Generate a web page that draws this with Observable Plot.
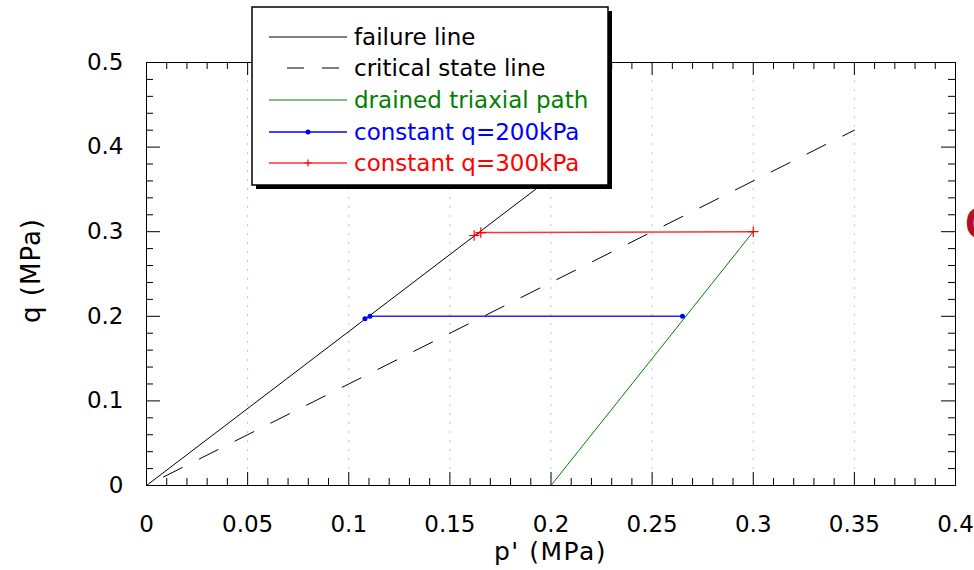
<!DOCTYPE html>
<html>
<head>
<meta charset="utf-8">
<script src="https://cdn.jsdelivr.net/npm/d3@7"></script>
<script src="https://cdn.jsdelivr.net/npm/@observablehq/plot@0.6"></script>
<style>
  html, body { margin: 0; padding: 0; background: #fff; }
  #chart { position: relative; width: 974px; height: 570px; overflow: hidden; }
</style>
</head>
<body>
<div id="chart"></div>
<script>
// Stress paths in p'-q space (MPa)
const failureP = [0, 0.2];
const failureQ = [0, 0.364];

const cslP = [0, 0.35];
const cslQ = [0, 0.42];

const drainedP = [0.2, 0.3];
const drainedQ = [0, 0.3];

const q200P = [0.265, 0.1105, 0.108];
const q200Q = [0.2, 0.2, 0.197];

const q300P = [0.3, 0.1653, 0.162];
const q300Q = [0.3, 0.299, 0.2955];

// Axis ticks
const xMajor = [0, 0.05, 0.1, 0.15, 0.2, 0.25, 0.3, 0.35, 0.4];
const xMinor = [0.01, 0.02, 0.03, 0.04, 0.06, 0.07, 0.08, 0.09, 0.11, 0.12, 0.13, 0.14,
  0.16, 0.17, 0.18, 0.19, 0.21, 0.22, 0.23, 0.24, 0.26, 0.27, 0.28, 0.29,
  0.31, 0.32, 0.33, 0.34, 0.36, 0.37, 0.38, 0.39];
const xGrid = [0.05, 0.1, 0.15, 0.2, 0.25, 0.3, 0.35];
const yMajor = [0, 0.1, 0.2, 0.3, 0.4, 0.5];
const yMinor = [0.02, 0.04, 0.06, 0.08, 0.12, 0.14, 0.16, 0.18, 0.22, 0.24, 0.26, 0.28,
  0.32, 0.34, 0.36, 0.38, 0.42, 0.44, 0.46, 0.48];

const xTitle = "p' (MPa)";
const yTitle = "q (MPa)";

// Legend entries
const legendLabels = ["failure line", "critical state line", "drained triaxial path", "constant q=200kPa", "constant q=300kPa"];
const legendColors = ["#000000", "#000000", "#008000", "#0000ff", "#ff0000"];

const W = 974, H = 570;
const mL = 146, mR = 19, mT = 62, mB = 85;
const plotW = W - mL - mR, plotH = H - mT - mB;
const FONT = "DejaVu Sans, sans-serif";

const pts = (P, Q) => P.map((p, i) => ({p, q: Q[i]}));
const plain = d => `${d}`;

// axis titles, placed relative to the frame
function titlesMark(index, scales, values, dim) {
  const g = d3.create("svg:g").attr("font-family", FONT).attr("fill", "#000");
  const cx = dim.marginLeft + (dim.width - dim.marginLeft - dim.marginRight) / 2;
  const cy = dim.marginTop + (dim.height - dim.marginTop - dim.marginBottom) / 2;
  g.append("text").attr("x", cx).attr("y", dim.height - dim.marginBottom + 75)
    .attr("text-anchor", "middle").attr("font-size", 25).attr("letter-spacing", 1.5).text(xTitle);
  g.append("text").attr("transform", `translate(${dim.marginLeft - 106},${cy - 3}) rotate(-90)`)
    .attr("text-anchor", "middle").attr("font-size", 26).attr("letter-spacing", 1).text(yTitle);
  return g.node();
}

function legendMark() {
  const g = d3.create("svg:g").attr("font-family", FONT).attr("text-anchor", "start");
  const bx = 252, by = 7, bw = 356, bh = 178;
  g.append("rect").attr("x", bx + 4).attr("y", by + 4).attr("width", bw).attr("height", bh).attr("fill", "#000");
  g.append("rect").attr("x", bx).attr("y", by).attr("width", bw).attr("height", bh)
    .attr("fill", "#fff").attr("stroke", "#000").attr("stroke-width", 1.5);
  const rows = [37, 68, 100, 132, 163];
  legendLabels.forEach((label, i) => {
    const y = rows[i];
    const line = g.append("line").attr("x1", 269).attr("x2", 347).attr("y1", y).attr("y2", y)
      .attr("stroke", legendColors[i]).attr("stroke-width", i >= 3 ? 1.5 : 1);
    if (i === 1) line.attr("x1", 287).attr("stroke-dasharray", "17,18");
    if (i === 4) line.attr("stroke-opacity", 0.8);
    if (i === 3) g.append("circle").attr("cx", 308).attr("cy", y).attr("r", 2.5).attr("fill", legendColors[i]);
    if (i === 4) g.append("path").attr("d", `M304.5,${y}h7M308,${y - 3.5}v7`).attr("stroke", legendColors[i]).attr("stroke-width", 1.2);
    g.append("text").attr("x", 354).attr("y", y).attr("dy", "0.36em")
      .attr("font-size", 23).attr("fill", legendColors[i]).text(label);
  });
  // slide heading letter cut off at the right edge
  g.append("text").attr("x", 965).attr("y", 239).attr("font-size", 46).attr("font-weight", "bold")
    .attr("font-family", "Liberation Sans, Arial, sans-serif").attr("fill", "#b0102c").text("C");
  return g.node();
}

const chart = Plot.plot({
  width: W,
  height: H,
  marginLeft: mL,
  marginRight: mR,
  marginTop: mT,
  marginBottom: mB,
  style: {fontFamily: FONT, background: "#fff", overflow: "visible"},
  x: {domain: [0, 0.4], axis: null},
  y: {domain: [0, 0.5], axis: null},
  marks: [
    Plot.ruleX(xGrid, {x: d => d, stroke: "#c4c4c4", strokeDasharray: "2,7"}),
    Plot.line(pts(failureP, failureQ), {x: "p", y: "q", stroke: "#000", strokeWidth: 1}),
    Plot.line(pts(cslP, cslQ), {x: "p", y: "q", stroke: "#000", strokeWidth: 1, strokeDasharray: "21,19", strokeDashoffset: 21}),
    Plot.line(pts(drainedP, drainedQ), {x: "p", y: "q", stroke: "#008000", strokeWidth: 1}),
    Plot.line(pts(q200P, q200Q), {x: "p", y: "q", stroke: "#0000ff", strokeWidth: 1.5, strokeOpacity: 0.85}),
    Plot.dot(pts(q200P, q200Q), {x: "p", y: "q", r: 2.5, fill: "#0000ff"}),
    Plot.line(pts(q300P, q300Q), {x: "p", y: "q", stroke: "#ff0000", strokeWidth: 1.5, strokeOpacity: 0.8}),
    Plot.dot(pts(q300P, q300Q), {x: "p", y: "q", symbol: "plus", r: 3.5, stroke: "#ff0000", strokeWidth: 1.2}),
    Plot.frame({stroke: "#000", strokeWidth: 1}),
    // inward ticks on all four sides
    Plot.tickX(xMajor, {x: d => d, insetTop: plotH - 13, stroke: "#000"}),
    Plot.tickX(xMinor, {x: d => d, insetTop: plotH - 7, stroke: "#000"}),
    Plot.tickX(xMajor, {x: d => d, insetBottom: plotH - 13, stroke: "#000"}),
    Plot.tickX(xMinor, {x: d => d, insetBottom: plotH - 7, stroke: "#000"}),
    Plot.tickY(yMajor, {y: d => d, insetRight: plotW - 14, stroke: "#000"}),
    Plot.tickY(yMinor, {y: d => d, insetRight: plotW - 7, stroke: "#000"}),
    Plot.tickY(yMajor, {y: d => d, insetLeft: plotW - 14, stroke: "#000"}),
    Plot.tickY(yMinor, {y: d => d, insetLeft: plotW - 7, stroke: "#000"}),
    Plot.axisX(xMajor, {tickSize: 0, tickPadding: 30, fontSize: 23, fill: "#000", tickFormat: plain, label: null}),
    Plot.axisY(yMajor, {tickSize: 0, tickPadding: 23, fontSize: 23, fill: "#000", tickFormat: plain, label: null}),
    titlesMark,
    legendMark
  ]
});

document.getElementById("chart").appendChild(chart);
</script>
</body>
</html>
